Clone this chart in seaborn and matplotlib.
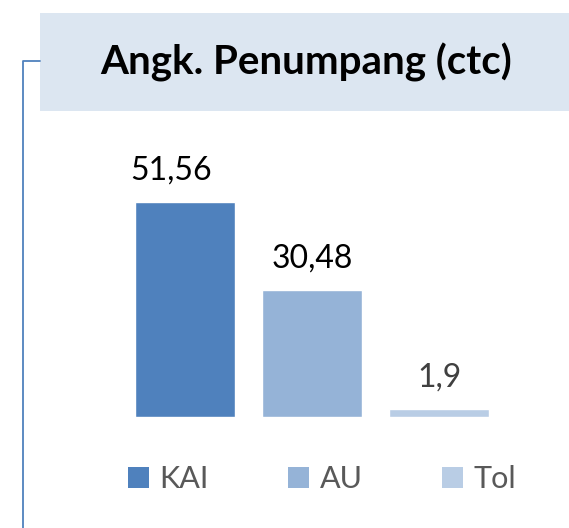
import matplotlib
matplotlib.use("Agg")
import matplotlib.pyplot as plt
import seaborn as sns
import pandas as pd
from matplotlib.patches import Rectangle, Patch
from matplotlib.lines import Line2D

categories = ["KAI", "AU", "Tol"]
values = [51.56, 30.48, 1.9]
value_labels = ["51,56", "30,48", "1,9"]
title = "Angk. Penumpang (ctc)"

colors = ["#4F81BD", "#95B3D7", "#B9CDE5"]
label_colors = ["#000000", "#000000", "#404040"]
label_nudge_px = [-14, 0, 0]

sns.set_style("white")
plt.rcParams["font.family"] = ["Lato", "DejaVu Sans"]

W, H = 569, 528
fig = plt.figure(figsize=(W / 100, H / 100), dpi=100)

def fx(px):
    return px / W

def fy(py):
    return (H - py) / H

# Title box
fig.patches.append(Rectangle((fx(40), fy(111)), 1 - fx(40), fy(13) - fy(111),
                             transform=fig.transFigure, facecolor="#DCE6F1",
                             edgecolor="none", zorder=0))
fig.text(fx(306), fy(62), title, ha="center", va="center", fontsize=29,
         fontweight="bold", color="#000000")

# Bracket line
fig.lines.append(Line2D([fx(40), fx(22.5), fx(22.5)], [fy(61), fy(61), fy(528)],
                        transform=fig.transFigure, color="#4F81BD", lw=1.3))

# Bars axes
y0 = 416.7
ytop = 130
ax = fig.add_axes([0, fy(y0), 1, (y0 - ytop) / H])
df = pd.DataFrame({"cat": categories, "val": values})
sns.barplot(data=df, x="cat", y="val", hue="cat", palette=colors, order=categories,
            hue_order=categories, width=0.787, dodge=False, legend=False, ax=ax,
            saturation=1)
scale = 127.0
ax.set_xlim(-185 / scale, (W - 185) / scale)
ax.set_ylim(0, (y0 - ytop) / 4.164)
ax.axis("off")

for i, (v, lab, c, dx) in enumerate(zip(values, value_labels, label_colors, label_nudge_px)):
    ax.annotate(lab, (i, v), xytext=(dx, 16), textcoords="offset pixels",
                ha="center", va="bottom", fontsize=23, color=c)

handles = [Patch(facecolor=c, edgecolor="none") for c in colors]
fig.legend(handles, categories, loc="center", bbox_to_anchor=(fx(322), fy(479.5)),
           ncol=3, frameon=False, fontsize=22, labelcolor="#595959",
           handlelength=0.69, handleheight=0.69, handletextpad=0.33,
           columnspacing=2.6, borderpad=0)

fig.savefig("out.png", dpi=100)
